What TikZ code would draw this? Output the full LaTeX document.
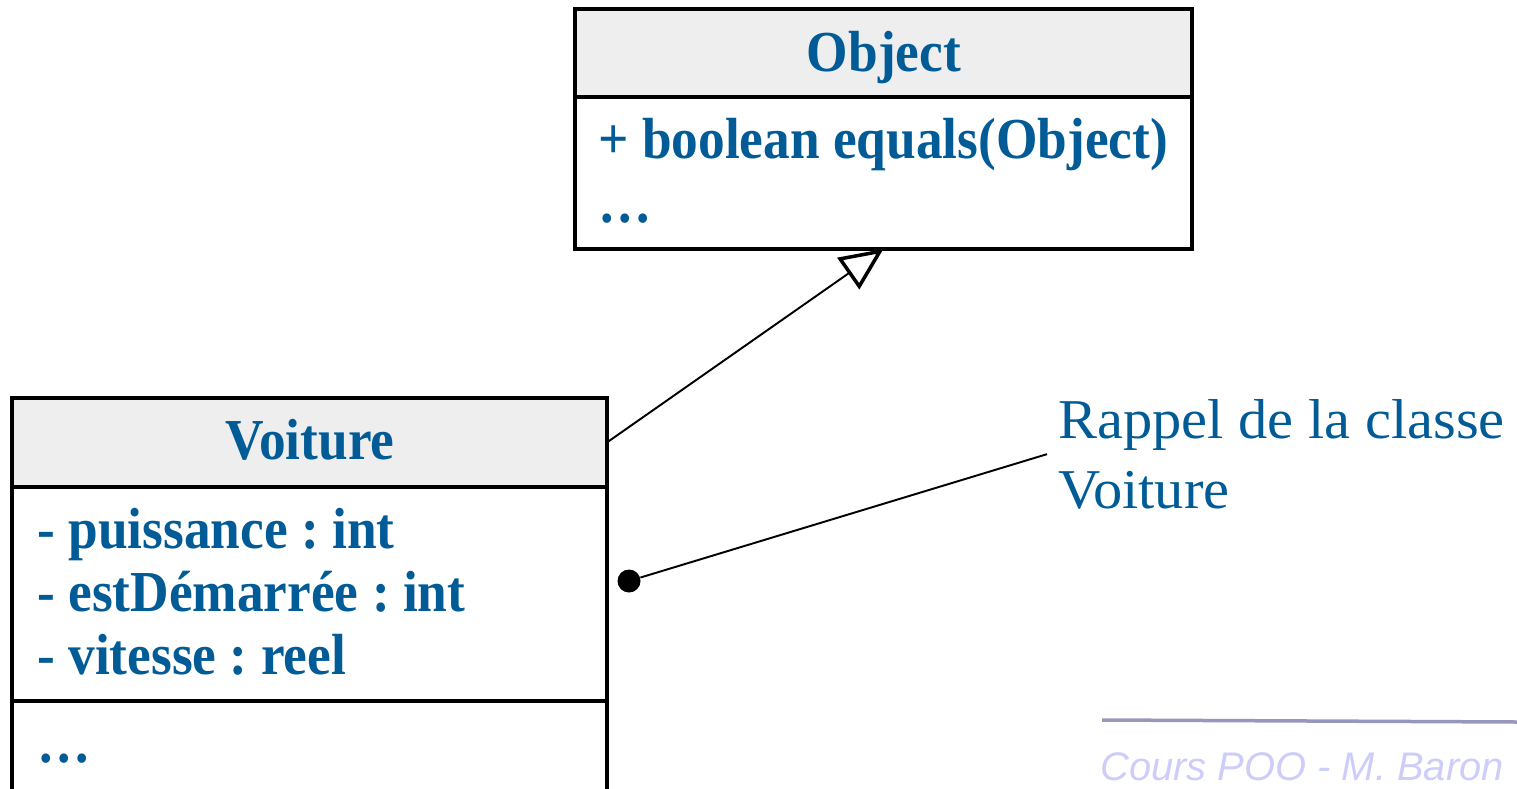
\documentclass[tikz,border=0pt]{standalone}
\usepackage{fontspec}
\setmainfont{Liberation Serif}
\newfontfamily\umlfamily[FakeStretch=0.92]{Liberation Serif}
\newfontfamily\notefamily[FakeStretch=1.04]{Liberation Serif}
\newfontfamily\footfont{Liberation Sans}
\usepackage{tikz}
\usetikzlibrary{arrows.meta, positioning}
\usepackage{xcolor}
\definecolor{umlblue}{RGB}{0, 91, 150}
\definecolor{headgray}{RGB}{238, 238, 238}
\definecolor{footblue}{RGB}{205, 205, 250}
\definecolor{footline}{RGB}{150, 150, 190}
\newcommand{\umlfont}{\umlfamily\bfseries\fontsize{33}{38}\selectfont\frenchspacing}

\begin{document}
\begin{tikzpicture}[x=0.02cm, y=-0.02cm,
  compart/.style={draw, line width=2.2pt, fill=white, inner sep=0pt, outer sep=0pt},
  umltext/.style={font=\umlfont, text=umlblue, anchor=base west, inner sep=0pt}]
  \useasboundingbox (0,0) rectangle (1517,788);
  \clip (0,0) rectangle (1517,788);
  % class Object
  \node[compart, fill=headgray, anchor=north west, minimum width=12.34cm, minimum height=1.76cm] (objhead) at (575,9) {};
  \node[compart, below=0pt of objhead.south west, anchor=north west, minimum width=12.34cm, minimum height=3.04cm] (objbody) {};
  \node[umltext, anchor=base] (objname) at (884,71) {Object};
  \node[umltext] (objop) at (598,158) {+ boolean equals(Object)};
  \node[umltext] (objmore) at (598,222) {…};
  % class Voiture
  \node[compart, fill=headgray, anchor=north west, minimum width=11.9cm, minimum height=1.78cm] (vhead) at (12,398) {};
  \node[compart, below=0pt of vhead.south west, anchor=north west, minimum width=11.9cm, minimum height=4.28cm] (vattrs) {};
  \node[compart, below=0pt of vattrs.south west, anchor=north west, minimum width=11.9cm, minimum height=3cm] (vops) {};
  \node[umltext, anchor=base] (vname) at (310,459) {Voiture};
  \node[umltext] (vpower) at (37,548) {- puissance : int};
  \node[umltext] (vstarted) at (37,611) {- estDémarrée : int};
  \node[umltext] (vspeed) at (37,674) {- vitesse : reel};
  \node[umltext] (vmore) at (37,762) {…};
  % inheritance
  \draw[line width=1.1pt, -{Triangle[open, length=0.86cm, width=0.76cm, line width=2pt]}] (vhead.east) -- (objbody.south);
  % note
  \node[circle, fill=black, minimum size=0.46cm, inner sep=0pt] (dot) at (629,581) {};
  \node[font=\notefamily\fontsize{32}{39.7}\selectfont, text=umlblue, align=left, anchor=north west, inner sep=0pt] (note) at (1058,399) {Rappel de la classe\\Voiture};
  \draw[line width=1.1pt] (dot) -- ([xshift=-0.22cm]note.west);
  % footer
  \draw[footline, line width=0.07cm] (1102,720) -- (1517,722);
  \node[font=\footfont\itshape\fontsize{22.7}{26}\selectfont, text=footblue, anchor=base west, inner sep=0pt] (footer) at (1100,780) {Cours POO - M. Baron};
\end{tikzpicture}
\end{document}
